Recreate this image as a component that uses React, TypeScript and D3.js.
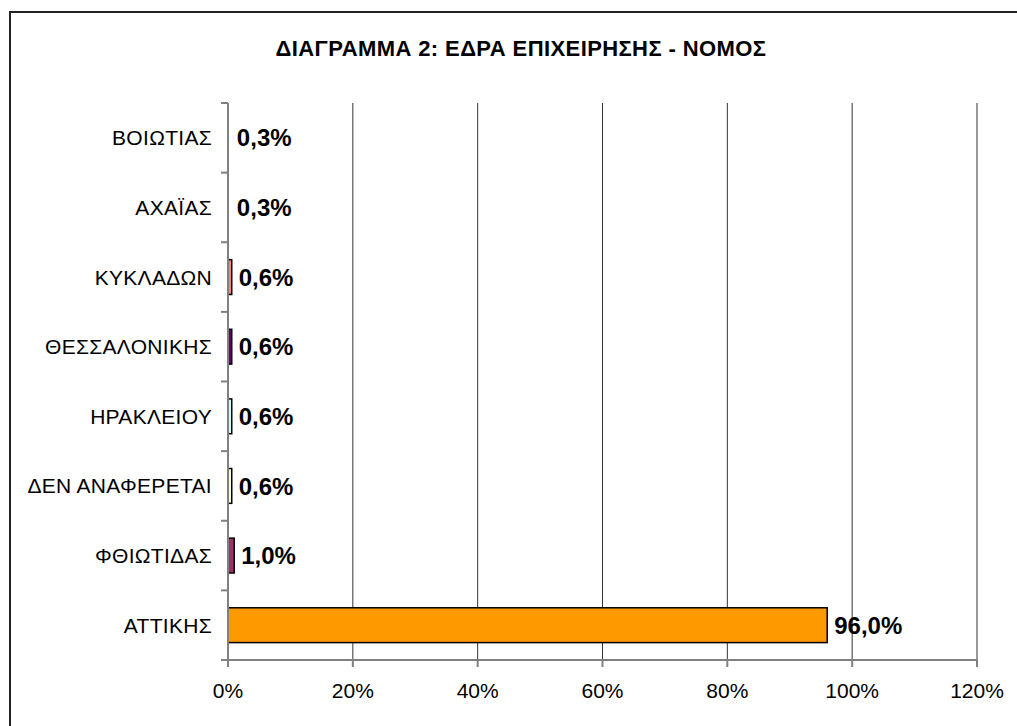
import React from "react";
import * as d3 from "d3";

const categories = ["ΒΟΙΩΤΙΑΣ", "ΑΧΑΪΑΣ", "ΚΥΚΛΑΔΩΝ", "ΘΕΣΣΑΛΟΝΙΚΗΣ", "ΗΡΑΚΛΕΙΟΥ", "ΔΕΝ ΑΝΑΦΕΡΕΤΑΙ", "ΦΘΙΩΤΙΔΑΣ", "ΑΤΤΙΚΗΣ"];
const values = [0.3, 0.3, 0.6, 0.6, 0.6, 0.6, 1.0, 96.0];
const valueLabels = ["0,3%", "0,3%", "0,6%", "0,6%", "0,6%", "0,6%", "1,0%", "96,0%"];
const barColors = ["none", "none", "#FF8080", "#660066", "#CCFFFF", "#FFFFCC", "#993366", "#FF9900"];
const xTicks = [0, 20, 40, 60, 80, 100, 120];
const title = "ΔΙΑΓΡΑΜΜΑ 2: ΕΔΡΑ ΕΠΙΧΕΙΡΗΣΗΣ - ΝΟΜΟΣ";

export default function App() {
  const W = 1017, H = 726;
  const left = 228, right = 977, top = 103, bottom = 660;
  const x = d3.scaleLinear().domain([0, 120]).range([left, right]);
  const y = d3.scaleBand().domain(categories).range([top, bottom]).paddingInner(0.5).paddingOuter(0.25);
  const band = d3.scaleBand().domain(categories).range([top, bottom]);
  const font = "'Liberation Sans', Arial, sans-serif";
  return (
    <svg width={W} height={H} style={{ position: "absolute", left: 0, top: 0 }}>
      <rect x={0} y={0} width={W} height={H} fill="#fff" />
      <rect x={10} y={12} width={W + 20} height={H + 20} fill="none" stroke="#222" strokeWidth={2} />
      <text x={521} y={56} textAnchor="middle" fontFamily={font} fontWeight="bold" fontSize={22} letterSpacing={0.4}>{title}</text>
      {xTicks.slice(1).map((t) => (
        <line key={t} x1={x(t)} x2={x(t)} y1={top} y2={bottom} stroke="#333" strokeWidth={1} />
      ))}
      {categories.map((c, i) => (
        <g key={c}>
          {barColors[i] !== "none" && (
            <rect x={x(0)} y={y(c)!} width={x(values[i]) - x(0)} height={y.bandwidth()} fill={barColors[i]} stroke="#000" strokeWidth={1.5} />
          )}
          <text x={x(values[i]) + 7} y={band(c)! + band.bandwidth() / 2} dy="0.36em" fontFamily={font} fontWeight="bold" fontSize={24}>{valueLabels[i]}</text>
          <text x={212} y={band(c)! + band.bandwidth() / 2} dy="0.36em" textAnchor="end" fontFamily={font} fontSize={21} letterSpacing={0.3}>{c}</text>
        </g>
      ))}
      {d3.range(categories.length + 1).map((i) => {
        const yy = top + i * band.step();
        return <line key={i} x1={left - 7} x2={left} y1={yy} y2={yy} stroke="#808080" strokeWidth={2} />;
      })}
      <line x1={left} x2={left} y1={top} y2={bottom + 7} stroke="#808080" strokeWidth={2} />
      <line x1={left - 7} x2={right} y1={bottom} y2={bottom} stroke="#808080" strokeWidth={2} />
      {xTicks.map((t) => (
        <g key={t}>
          <line x1={x(t)} x2={x(t)} y1={bottom} y2={bottom + 7} stroke="#808080" strokeWidth={2} />
          <text x={x(t)} y={698} textAnchor="middle" fontFamily={font} fontSize={21}>{t}%</text>
        </g>
      ))}
    </svg>
  );
}
